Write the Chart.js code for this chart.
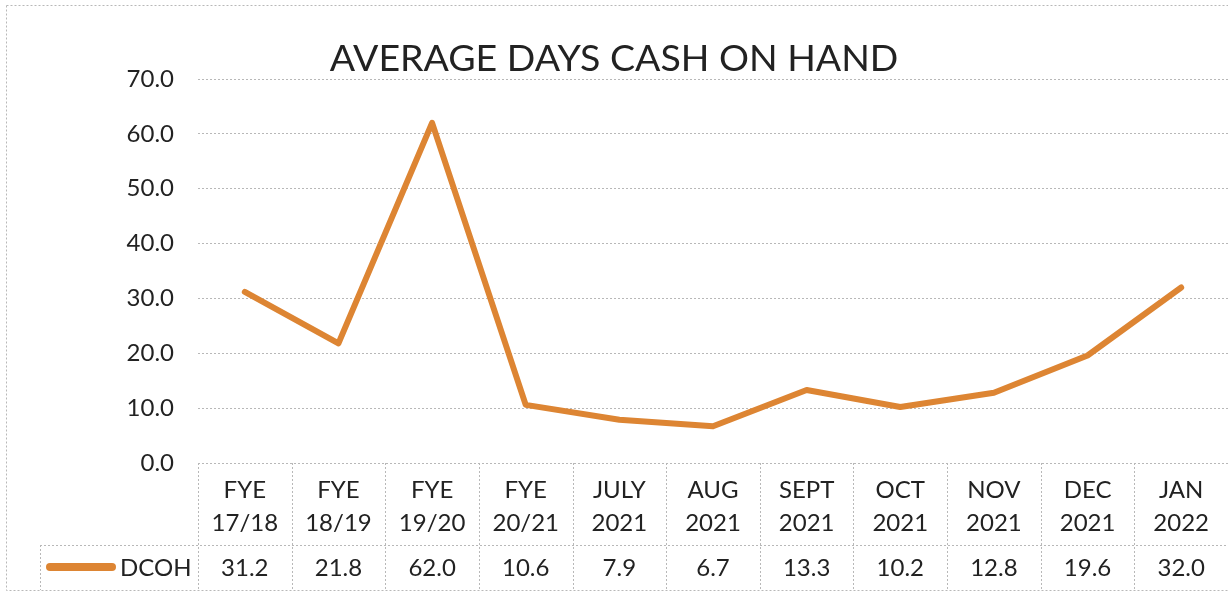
<!DOCTYPE html>
<html>
<head>
<meta charset="utf-8">
<script src="https://cdn.jsdelivr.net/npm/chart.js@4"></script>
<style>
  html, body { margin: 0; padding: 0; background: #fff; }
  #wrap { width: 1228px; height: 594px; }
</style>
</head>
<body>
<div id="wrap"><canvas id="dcohChart" width="1228" height="594"></canvas></div>
<script>
// chart data
const categories = [
  ['FYE', '17/18'], ['FYE', '18/19'], ['FYE', '19/20'], ['FYE', '20/21'],
  ['JULY', '2021'], ['AUG', '2021'], ['SEPT', '2021'], ['OCT', '2021'],
  ['NOV', '2021'], ['DEC', '2021'], ['JAN', '2022']
];
const dcohValues = [31.2, 21.8, 62.0, 10.6, 7.9, 6.7, 13.3, 10.2, 12.8, 19.6, 32.0];
const seriesName = 'DCOH';
const yTicks = [0, 10, 20, 30, 40, 50, 60, 70];

const lineColor = '#DD8533';
const textColor = '#222222';
const gridColor = '#b8b8b8';
const fontFamily = 'Lato, "Open Sans", sans-serif';

// data table under the axis, legend cell and outer frame
const dataTablePlugin = {
  id: 'dataTable',
  afterDraw(chart) {
    const ctx = chart.ctx;
    const xScale = chart.scales.x;
    const area = chart.chartArea;
    const half = (xScale.getPixelForValue(1) - xScale.getPixelForValue(0)) / 2;
    const headTop = area.bottom;
    const rowTop = 545;
    const rowBottom = 590;
    const legendLeft = 40;

    ctx.save();
    ctx.strokeStyle = gridColor;
    ctx.lineWidth = 1;
    ctx.setLineDash([2, 2]);

    // outer frame
    ctx.beginPath();
    ctx.moveTo(6.5, 5.5);
    ctx.lineTo(1228, 5.5);
    ctx.moveTo(6.5, 5.5);
    ctx.lineTo(6.5, rowBottom + 0.5);
    ctx.lineTo(1228, rowBottom + 0.5);
    ctx.stroke();

    // horizontal table lines
    ctx.beginPath();
    ctx.moveTo(legendLeft, rowTop + 0.5);
    ctx.lineTo(area.right, rowTop + 0.5);
    ctx.stroke();

    // vertical table lines
    ctx.beginPath();
    for (let i = 0; i <= categories.length; i++) {
      const x = Math.round(xScale.getPixelForValue(i) - half) + 0.5;
      ctx.moveTo(x, headTop);
      ctx.lineTo(x, rowBottom);
    }
    ctx.moveTo(legendLeft + 0.5, rowTop);
    ctx.lineTo(legendLeft + 0.5, rowBottom);
    ctx.stroke();
    ctx.setLineDash([]);

    // values row
    ctx.fillStyle = textColor;
    ctx.font = '24px ' + fontFamily;
    ctx.textAlign = 'center';
    ctx.textBaseline = 'middle';
    dcohValues.forEach((v, i) => {
      ctx.fillText(v.toFixed(1), xScale.getPixelForValue(i), 568);
    });

    // legend key
    ctx.strokeStyle = lineColor;
    ctx.lineWidth = 8;
    ctx.lineCap = 'round';
    ctx.beginPath();
    ctx.moveTo(50, 567);
    ctx.lineTo(112, 567);
    ctx.stroke();
    ctx.textAlign = 'left';
    ctx.fillText(seriesName, 120, 568);
    ctx.restore();
  }
};

const ctx = document.getElementById('dcohChart').getContext('2d');

new Chart(ctx, {
  type: 'line',
  data: {
    labels: categories,
    datasets: [{
      label: seriesName,
      data: dcohValues,
      borderColor: lineColor,
      backgroundColor: lineColor,
      borderWidth: 6,
      borderCapStyle: 'round',
      borderJoinStyle: 'round',
      pointRadius: 0,
      tension: 0
    }]
  },
  options: {
    responsive: false,
    animation: false,
    layout: {
      padding: { left: 0, right: 0, top: 0, bottom: 49 }
    },
    scales: {
      x: {
        offset: true,
        grid: { display: false },
        border: { display: false },
        ticks: {
          color: textColor,
          font: { family: fontFamily, size: 24, lineHeight: 1.38 },
          padding: 3,
          maxRotation: 0,
          autoSkip: false
        },
        afterFit(scale) { scale.height = 82; }
      },
      y: {
        min: 0,
        max: 70,
        afterBuildTicks(scale) {
          scale.ticks = yTicks.map(v => ({ value: v }));
        },
        grid: {
          color: gridColor,
          drawTicks: false
        },
        border: { display: false, dash: [2, 2] },
        ticks: {
          color: textColor,
          font: { family: fontFamily, size: 24 },
          padding: 24,
          callback: v => v.toFixed(1)
        },
        afterFit(scale) { scale.width = 198; }
      }
    },
    plugins: {
      legend: { display: false },
      tooltip: { enabled: false },
      title: {
        display: true,
        text: 'AVERAGE DAYS CASH ON HAND',
        color: textColor,
        font: { family: fontFamily, size: 37.5, weight: 'normal', lineHeight: 1.2 },
        padding: { top: 36, bottom: -2 }
      }
    }
  },
  plugins: [dataTablePlugin]
});
</script>
</body>
</html>
